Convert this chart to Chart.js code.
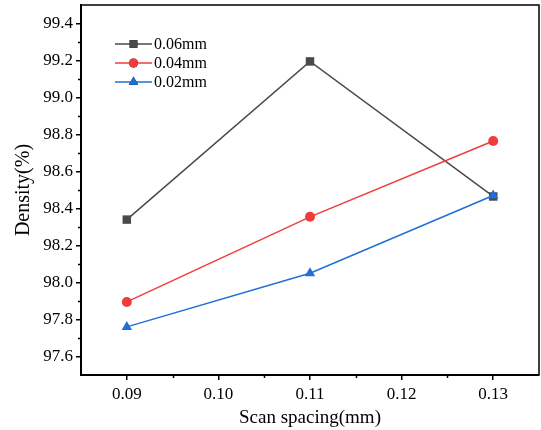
<!DOCTYPE html>
<html lang="en">
<head>
    <meta charset="UTF-8">
    <title>Density vs Scan spacing</title>
    <script src="https://cdn.jsdelivr.net/npm/chart.js"></script>
    <style>
        body { margin: 0; background: #fff; }
        #wrap { width: 541px; height: 430px; }
    </style>
</head>
<body>
<div id="wrap"><canvas id="chartCanvas" width="541" height="430"></canvas></div>

<script>
    // data
    const spacing = [0.09, 0.11, 0.13];
    const seriesNames = ['0.06mm', '0.04mm', '0.02mm'];
    const density006 = [98.34, 99.195, 98.465];
    const density004 = [97.895, 98.355, 98.765];
    const density002 = [97.76, 98.05, 98.47];

    const xTicks = [0.09, 0.10, 0.11, 0.12, 0.13];
    const xMinor = [0.095, 0.105, 0.115, 0.125];
    const yTicks = [97.6, 97.8, 98.0, 98.2, 98.4, 98.6, 98.8, 99.0, 99.2, 99.4];
    const yMinor = [97.7, 97.9, 98.1, 98.3, 98.5, 98.7, 98.9, 99.1, 99.3];

    const colors = ['#4a4a4a', '#f03c3c', '#1f6fd6'];
    const styles = ['rect', 'circle', 'triangle'];
    const radii = [6, 5, 6];
    const values = [density006, density004, density002];

    Chart.defaults.font.family = '"Liberation Serif", "Times New Roman", serif';
    Chart.defaults.color = '#000';

    const datasets = values.map((vals, i) => ({
        label: seriesNames[i],
        data: spacing.map((x, j) => ({ x: x, y: vals[j] })),
        borderColor: colors[i],
        backgroundColor: colors[i],
        borderWidth: 1.5,
        pointStyle: styles[i],
        pointRadius: radii[i],
        pointHoverRadius: radii[i],
        pointBorderWidth: 0,
        order: 2 - i
    }));

    // frame, minor ticks and the legend
    const extras = {
        id: 'extras',
        afterDraw(chart) {
            const ctx = chart.ctx;
            const a = chart.chartArea;
            const xs = chart.scales.x, ys = chart.scales.y;
            ctx.save();
            ctx.strokeStyle = '#000';
            ctx.lineWidth = 1.5;
            ctx.beginPath();
            ctx.moveTo(a.left, a.top);
            ctx.lineTo(a.right, a.top);
            ctx.lineTo(a.right, a.bottom);
            ctx.stroke();

            ctx.beginPath();
            xMinor.forEach(v => {
                const px = Math.round(xs.getPixelForValue(v)) + 0.5;
                ctx.moveTo(px, a.bottom);
                ctx.lineTo(px, a.bottom + 3);
            });
            yMinor.forEach(v => {
                const py = Math.round(ys.getPixelForValue(v)) + 0.5;
                ctx.moveTo(a.left, py);
                ctx.lineTo(a.left - 3, py);
            });
            ctx.stroke();

            // legend
            ctx.font = '16px "Liberation Serif"';
            ctx.textBaseline = 'middle';
            ctx.textAlign = 'left';
            chart.data.datasets.forEach((ds, i) => {
                const y = 44 + i * 19;
                ctx.strokeStyle = ds.borderColor;
                ctx.lineWidth = 1.5;
                ctx.beginPath();
                ctx.moveTo(115, y);
                ctx.lineTo(152, y);
                ctx.stroke();
                Chart.helpers.drawPoint(ctx, {
                    pointStyle: ds.pointStyle, radius: ds.pointRadius - 0.5, borderWidth: 0
                }, 133.5, y);
                ctx.fillStyle = ds.backgroundColor;
                ctx.fill();
                ctx.fillStyle = '#000';
                ctx.fillText(ds.label, 154, y + 1);
            });
            ctx.restore();
        }
    };

    new Chart(document.getElementById('chartCanvas'), {
        type: 'line',
        data: { datasets },
        options: {
            responsive: false,
            animation: false,
            events: [],
            layout: { autoPadding: false, padding: { top: 5, right: 2, left: 0, bottom: 0 } },
            plugins: { legend: { display: false }, tooltip: { enabled: false } },
            scales: {
                x: {
                    type: 'linear',
                    min: 0.085,
                    max: 0.135,
                    afterBuildTicks: s => { s.ticks = xTicks.map(v => ({ value: v })); },
                    afterFit: s => {
                        s.height = 55;
                        s.paddingLeft = 0;
                        s.paddingRight = 0;
                    },
                    ticks: {
                        font: { size: 17 },
                        padding: 4,
                        maxRotation: 0,
                        callback: v => v.toFixed(2)
                    },
                    grid: { drawOnChartArea: false, tickLength: 5, color: '#000', lineWidth: 1.5 },
                    border: { display: true, color: '#000', width: 2 },
                    title: {
                        display: true,
                        text: 'Scan spacing(mm)',
                        font: { size: 19 },
                        padding: { top: 0, bottom: 1 }
                    }
                },
                y: {
                    type: 'linear',
                    min: 97.5,
                    max: 99.5,
                    afterBuildTicks: s => { s.ticks = yTicks.map(v => ({ value: v })); },
                    afterFit: s => {
                        s.width = 81;
                        s.paddingTop = 0;
                        s.paddingBottom = 0;
                    },
                    ticks: {
                        font: { size: 17 },
                        padding: 3,
                        callback: v => v.toFixed(1)
                    },
                    grid: { drawOnChartArea: false, tickLength: 5, color: '#000', lineWidth: 1.5 },
                    border: { display: true, color: '#000', width: 2 },
                    title: {
                        display: true,
                        text: 'Density(%)',
                        font: { size: 20 },
                        padding: { top: 12, bottom: 0 }
                    }
                }
            }
        },
        plugins: [extras]
    });
</script>
</body>
</html>
